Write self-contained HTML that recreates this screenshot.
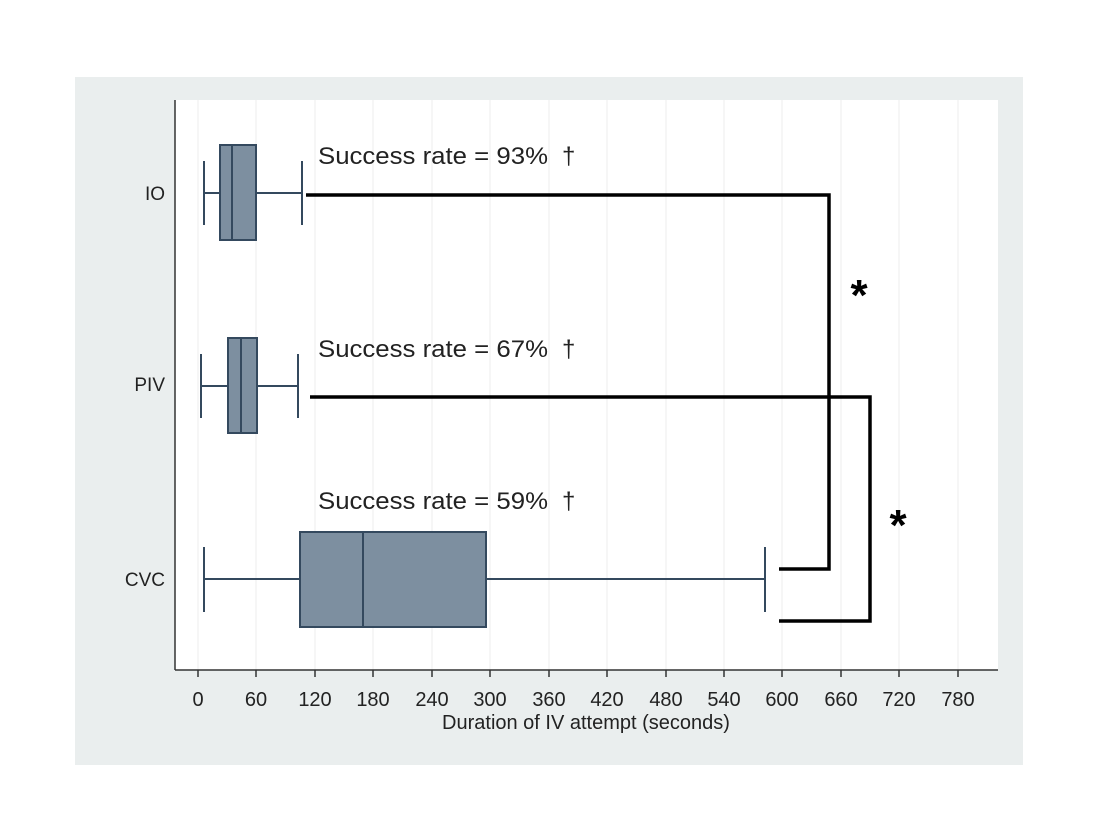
<!DOCTYPE html>
<html><head><style>body{margin:0;background:#fff}</style></head><body>
<svg width="1118" height="815" xmlns="http://www.w3.org/2000/svg" font-family="Liberation Sans, sans-serif">
<rect x="0" y="0" width="1118" height="815" fill="#fff"/>
<rect x="75" y="77" width="948" height="688" fill="#eaeeee"/>
<rect x="175" y="100" width="823" height="570" fill="#fff"/>
<g stroke="#ececec" stroke-width="1">
<line x1="198" y1="100" x2="198" y2="670"/><line x1="256" y1="100" x2="256" y2="670"/><line x1="315" y1="100" x2="315" y2="670"/><line x1="373" y1="100" x2="373" y2="670"/><line x1="432" y1="100" x2="432" y2="670"/><line x1="490" y1="100" x2="490" y2="670"/><line x1="549" y1="100" x2="549" y2="670"/><line x1="607" y1="100" x2="607" y2="670"/><line x1="666" y1="100" x2="666" y2="670"/><line x1="724" y1="100" x2="724" y2="670"/><line x1="782" y1="100" x2="782" y2="670"/><line x1="841" y1="100" x2="841" y2="670"/><line x1="899" y1="100" x2="899" y2="670"/><line x1="958" y1="100" x2="958" y2="670"/>
</g>
<g stroke="#333" stroke-width="1.5" fill="none">
<line x1="175" y1="100" x2="175" y2="670"/><line x1="175" y1="670" x2="998" y2="670"/>
</g>
<g stroke="#333" stroke-width="1.5">
<line x1="198" y1="670" x2="198" y2="677"/><line x1="256" y1="670" x2="256" y2="677"/><line x1="315" y1="670" x2="315" y2="677"/><line x1="373" y1="670" x2="373" y2="677"/><line x1="432" y1="670" x2="432" y2="677"/><line x1="490" y1="670" x2="490" y2="677"/><line x1="549" y1="670" x2="549" y2="677"/><line x1="607" y1="670" x2="607" y2="677"/><line x1="666" y1="670" x2="666" y2="677"/><line x1="724" y1="670" x2="724" y2="677"/><line x1="782" y1="670" x2="782" y2="677"/><line x1="841" y1="670" x2="841" y2="677"/><line x1="899" y1="670" x2="899" y2="677"/><line x1="958" y1="670" x2="958" y2="677"/>
</g>
<g font-size="20" fill="#222" text-anchor="middle">
<text x="198" y="706">0</text><text x="256" y="706">60</text><text x="315" y="706">120</text><text x="373" y="706">180</text><text x="432" y="706">240</text><text x="490" y="706">300</text><text x="549" y="706">360</text><text x="607" y="706">420</text><text x="666" y="706">480</text><text x="724" y="706">540</text><text x="782" y="706">600</text><text x="841" y="706">660</text><text x="899" y="706">720</text><text x="958" y="706">780</text>
<text x="586" y="729">Duration of IV attempt (seconds)</text>
</g>
<g font-size="19" fill="#222" text-anchor="end">
<text x="165" y="200">IO</text><text x="165" y="391">PIV</text><text x="165" y="586">CVC</text>
</g>
<g stroke="#34495e" stroke-width="2" fill="#7d8fa0">
<line x1="204" y1="193" x2="220" y2="193"/><line x1="256" y1="193" x2="302" y2="193"/><line x1="204" y1="161" x2="204" y2="225"/><line x1="302" y1="161" x2="302" y2="225"/>
<rect x="220" y="145" width="36" height="95"/><line x1="232" y1="145" x2="232" y2="240"/>
<line x1="201" y1="386" x2="228" y2="386"/><line x1="257" y1="386" x2="298" y2="386"/><line x1="201" y1="354" x2="201" y2="418"/><line x1="298" y1="354" x2="298" y2="418"/>
<rect x="228" y="338" width="29" height="95"/><line x1="241" y1="338" x2="241" y2="433"/>
<line x1="204" y1="579" x2="300" y2="579"/><line x1="486" y1="579" x2="765" y2="579"/><line x1="204" y1="547" x2="204" y2="612"/><line x1="765" y1="547" x2="765" y2="612"/>
<rect x="300" y="532" width="186" height="95"/><line x1="363" y1="532" x2="363" y2="627"/>
</g>
<g stroke="#000" stroke-width="3.5" fill="none">
<polyline points="306,195 829,195 829,569 779,569"/>
<polyline points="310,397 870,397 870,621 779,621"/>
</g>
<g font-size="24" fill="#222">
<text x="318" y="164" textLength="230" lengthAdjust="spacingAndGlyphs">Success rate = 93%</text><text x="562" y="164">†</text>
<text x="318" y="357" textLength="230" lengthAdjust="spacingAndGlyphs">Success rate = 67%</text><text x="562" y="357">†</text>
<text x="318" y="509" textLength="230" lengthAdjust="spacingAndGlyphs">Success rate = 59%</text><text x="562" y="509">†</text>
</g>
<g font-size="44" font-weight="bold" fill="#000" text-anchor="middle">
<text x="859" y="310">*</text><text x="898" y="540">*</text>
</g>
</svg>
</body></html>
